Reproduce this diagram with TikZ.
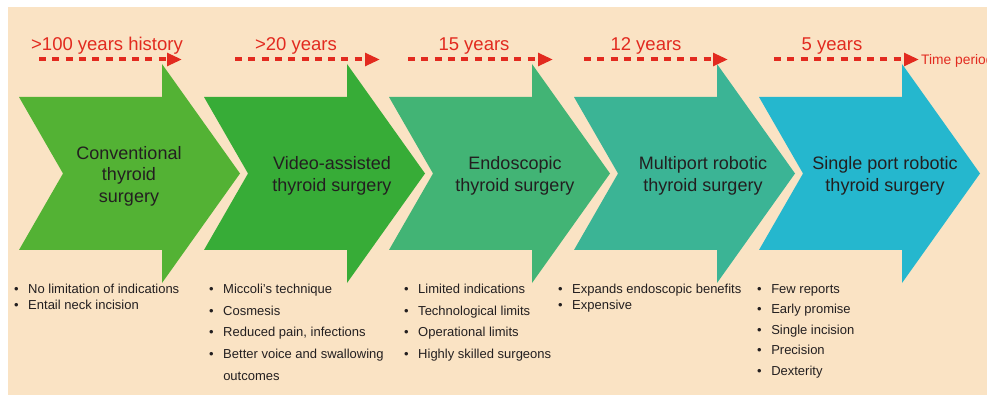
\documentclass[tikz,border=0pt]{standalone}
\usepackage{fontspec}
\setmainfont{Liberation Sans}
\usepackage{tikz}
\usetikzlibrary{arrows.meta, positioning}
\definecolor{paneltan}{HTML}{FAE3C4}
\definecolor{stageA}{HTML}{53B234}
\definecolor{stageB}{HTML}{37AC37}
\definecolor{stageC}{HTML}{42B475}
\definecolor{stageD}{HTML}{3BB495}
\definecolor{stageE}{HTML}{25B7CE}
\definecolor{timered}{HTML}{E22A1F}
\definecolor{textdark}{HTML}{231F20}

\begin{document}
\begin{tikzpicture}[x=1pt, y=-1pt,
  stagetext/.style={align=center, text=textdark, inner sep=0pt,
               font=\fontsize{18}{21.5}\selectfont},
  period/.style={anchor=base, text=timered, inner sep=0pt,
               font=\fontsize{18.5}{22}\selectfont},
  timeline/.style={-{Triangle[length=15pt, width=12.5pt]}, draw=timered,
               line width=4pt, dash pattern=on 7pt off 6.3pt},
  notes/.style={anchor=base west, text=textdark, inner sep=0pt,
               font=\fontsize{13}{16}\selectfont},
]
\useasboundingbox (0,0) rectangle (987,395);
\fill[white] (0,0) rectangle (987,395);
\fill[paneltan] (8,7) rectangle (987,395);

\foreach \lx/\col in {19/stageA, 204/stageB, 389/stageC, 574/stageD, 759/stageE}
  \fill[\col] (\lx,97) -- ++(143,0) -- ++(0,-33) -- ++(78,109.5) -- ++(-78,109.5)
    -- ++(0,-33) -- ++(-143,0) -- ++(44,-76.5) -- cycle;

\node[stagetext] (conv)   at (129,176) {Conventional\\thyroid\\surgery};
\node[stagetext] (video)  at (332,176) {Video-assisted\\thyroid surgery};
\node[stagetext] (endo)   at (515,176) {Endoscopic\\thyroid surgery};
\node[stagetext] (multi)  at (703,176) {Multiport robotic\\thyroid surgery};
\node[stagetext] (single) at (885,176) {Single port robotic\\thyroid surgery};

\coordinate (t1s) at (39,59.5);  \coordinate (t1e) at (182,59.5);
\coordinate (t2s) at (235,59.5); \coordinate (t2e) at (380,59.5);
\coordinate (t3s) at (408,59.5); \coordinate (t3e) at (553,59.5);
\coordinate (t4s) at (584,59.5); \coordinate (t4e) at (728,59.5);
\coordinate (t5s) at (774,59.5); \coordinate (t5e) at (919,59.5);

\draw[timeline] (t1s) -- (t1e);
\draw[timeline] (t2s) -- (t2e);
\draw[timeline] (t3s) -- (t3e);
\draw[timeline] (t4s) -- (t4e);
\draw[timeline] (t5s) -- (t5e);

\node[period] (p1) at (107,50.5) {>100 years history};
\node[period] (p2) at (296,50.5) {>20 years};
\node[period] (p3) at (474,50.5) {15 years};
\node[period] (p4) at (646,50.5) {12 years};
\node[period] (p5) at (832,50.5) {5 years};
\node[anchor=base west, text=timered, inner sep=0pt,
      font=\fontsize{13.8}{16}\selectfont] (timelab) at (921,65) {Time period};

\node[notes] (conv-list) at (14,293.3) {\begin{tabular}[t]{@{}l@{\hspace{9.5pt}}l@{}}
  \textbullet & No limitation of indications\\
  \textbullet & Entail neck incision
\end{tabular}};
\node[notes] (video-list) at (209,293.3) {\begin{tabular}[t]{@{}l@{\hspace{9.5pt}}l@{}}
  \textbullet & Miccoli's technique\\[5.7pt]
  \textbullet & Cosmesis\\[5.7pt]
  \textbullet & Reduced pain, infections\\[5.7pt]
  \textbullet & Better voice and swallowing\\[5.7pt]
              & outcomes
\end{tabular}};
\node[notes] (endo-list) at (404,293.3) {\begin{tabular}[t]{@{}l@{\hspace{9.5pt}}l@{}}
  \textbullet & Limited indications\\[5.8pt]
  \textbullet & Technological limits\\[5.8pt]
  \textbullet & Operational limits\\[5.8pt]
  \textbullet & Highly skilled surgeons
\end{tabular}};
\node[notes] (multi-list) at (558,293.3) {\begin{tabular}[t]{@{}l@{\hspace{9.5pt}}l@{}}
  \textbullet & Expands endoscopic benefits\\
  \textbullet & Expensive
\end{tabular}};
\node[notes] (single-list) at (757,293.3) {\begin{tabular}[t]{@{}l@{\hspace{9.5pt}}l@{}}
  \textbullet & Few reports\\[4.5pt]
  \textbullet & Early promise\\[4.5pt]
  \textbullet & Single incision\\[4.5pt]
  \textbullet & Precision\\[4.5pt]
  \textbullet & Dexterity
\end{tabular}};
\end{tikzpicture}
\end{document}
